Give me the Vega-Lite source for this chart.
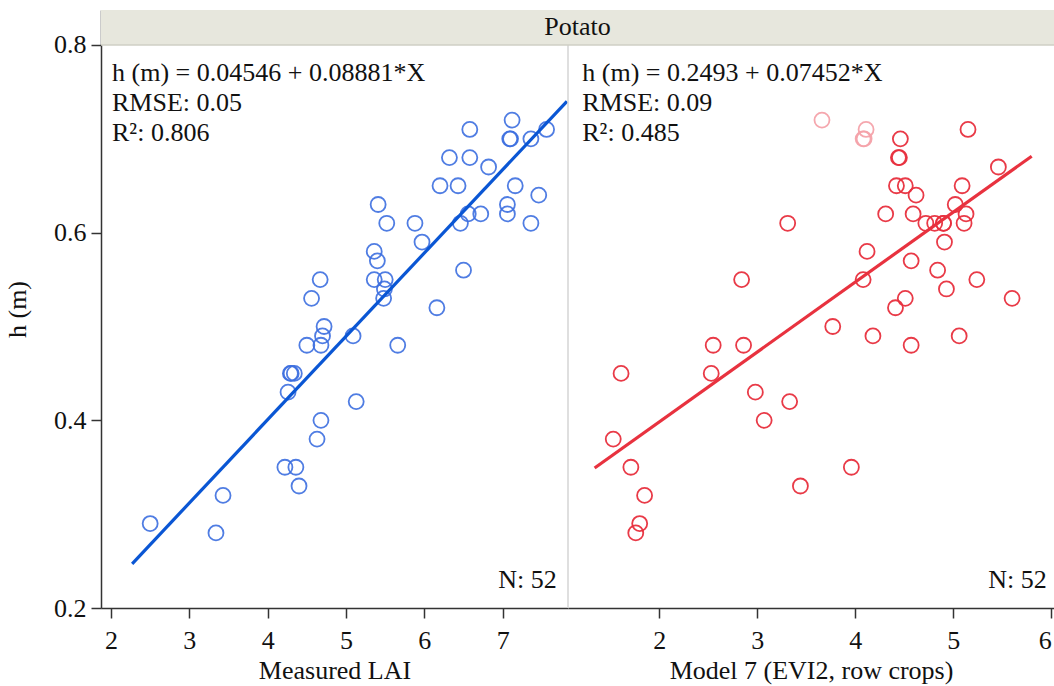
{
  "$schema": "https://vega.github.io/schema/vega-lite/v6.json",
  "width": 953,
  "height": 598,
  "autosize": {"type": "none"},
  "padding": {"left": 101, "top": 10, "right": 0, "bottom": 78},
  "config": {
    "font": "Liberation Serif",
    "view": {"stroke": null},
    "axis": {
      "labelFont": "Liberation Serif",
      "titleFont": "Liberation Serif",
      "labelFontSize": 26,
      "titleFontSize": 26,
      "titleFontWeight": "normal",
      "labelColor": "#111111",
      "titleColor": "#111111",
      "tickColor": "#333333",
      "domainColor": "#333333",
      "tickSize": 10,
      "tickWidth": 1.5,
      "domainWidth": 1.5,
      "grid": false,
      "zindex": 0
    }
  },
  "datasets": {
    "measured": [
      {"lai": 7.12, "h": 0.72}, {"lai": 6.58, "h": 0.71}, {"lai": 7.56, "h": 0.71}, {"lai": 7.10, "h": 0.70},
      {"lai": 7.09, "h": 0.70}, {"lai": 7.36, "h": 0.70}, {"lai": 6.32, "h": 0.68}, {"lai": 6.58, "h": 0.68},
      {"lai": 6.82, "h": 0.67}, {"lai": 6.20, "h": 0.65}, {"lai": 6.43, "h": 0.65}, {"lai": 7.16, "h": 0.65},
      {"lai": 7.46, "h": 0.64}, {"lai": 5.41, "h": 0.63}, {"lai": 7.06, "h": 0.63}, {"lai": 7.06, "h": 0.62},
      {"lai": 6.56, "h": 0.62}, {"lai": 6.72, "h": 0.62}, {"lai": 7.36, "h": 0.61}, {"lai": 5.52, "h": 0.61},
      {"lai": 5.88, "h": 0.61}, {"lai": 6.46, "h": 0.61}, {"lai": 5.97, "h": 0.59}, {"lai": 5.36, "h": 0.58},
      {"lai": 5.40, "h": 0.57}, {"lai": 6.50, "h": 0.56}, {"lai": 4.67, "h": 0.55}, {"lai": 5.36, "h": 0.55},
      {"lai": 5.50, "h": 0.55}, {"lai": 5.49, "h": 0.54}, {"lai": 4.56, "h": 0.53}, {"lai": 5.48, "h": 0.53},
      {"lai": 6.16, "h": 0.52}, {"lai": 4.72, "h": 0.50}, {"lai": 4.70, "h": 0.49}, {"lai": 5.09, "h": 0.49},
      {"lai": 4.50, "h": 0.48}, {"lai": 4.68, "h": 0.48}, {"lai": 5.66, "h": 0.48}, {"lai": 4.29, "h": 0.45},
      {"lai": 4.34, "h": 0.45}, {"lai": 4.30, "h": 0.45}, {"lai": 4.26, "h": 0.43}, {"lai": 5.13, "h": 0.42},
      {"lai": 4.68, "h": 0.40}, {"lai": 4.63, "h": 0.38}, {"lai": 4.22, "h": 0.35}, {"lai": 4.36, "h": 0.35},
      {"lai": 4.40, "h": 0.33}, {"lai": 3.43, "h": 0.32}, {"lai": 2.50, "h": 0.29}, {"lai": 3.34, "h": 0.28}
    ],
    "modelled": [
      {"evi": 3.66, "h": 0.72, "status": "faded"}, {"evi": 4.11, "h": 0.71, "status": "faded"},
      {"evi": 4.08, "h": 0.70, "status": "faded"}, {"evi": 4.09, "h": 0.70, "status": "faded"},
      {"evi": 5.15, "h": 0.71, "status": "normal"}, {"evi": 4.46, "h": 0.70, "status": "normal"},
      {"evi": 4.45, "h": 0.68, "status": "normal"}, {"evi": 4.44, "h": 0.68, "status": "normal"},
      {"evi": 5.46, "h": 0.67, "status": "normal"}, {"evi": 4.42, "h": 0.65, "status": "normal"},
      {"evi": 4.51, "h": 0.65, "status": "normal"}, {"evi": 5.09, "h": 0.65, "status": "normal"},
      {"evi": 4.62, "h": 0.64, "status": "normal"}, {"evi": 5.02, "h": 0.63, "status": "normal"},
      {"evi": 4.31, "h": 0.62, "status": "normal"}, {"evi": 4.59, "h": 0.62, "status": "normal"},
      {"evi": 5.13, "h": 0.62, "status": "normal"}, {"evi": 3.31, "h": 0.61, "status": "normal"},
      {"evi": 4.72, "h": 0.61, "status": "normal"}, {"evi": 4.81, "h": 0.61, "status": "normal"},
      {"evi": 4.90, "h": 0.61, "status": "normal"}, {"evi": 4.90, "h": 0.61, "status": "normal"},
      {"evi": 5.11, "h": 0.61, "status": "normal"}, {"evi": 4.91, "h": 0.59, "status": "normal"},
      {"evi": 4.12, "h": 0.58, "status": "normal"}, {"evi": 4.57, "h": 0.57, "status": "normal"},
      {"evi": 4.84, "h": 0.56, "status": "normal"}, {"evi": 2.84, "h": 0.55, "status": "normal"},
      {"evi": 4.08, "h": 0.55, "status": "normal"}, {"evi": 5.24, "h": 0.55, "status": "normal"},
      {"evi": 4.93, "h": 0.54, "status": "normal"}, {"evi": 4.51, "h": 0.53, "status": "normal"},
      {"evi": 5.60, "h": 0.53, "status": "normal"}, {"evi": 4.41, "h": 0.52, "status": "normal"},
      {"evi": 3.77, "h": 0.50, "status": "normal"}, {"evi": 4.18, "h": 0.49, "status": "normal"},
      {"evi": 5.06, "h": 0.49, "status": "normal"}, {"evi": 2.55, "h": 0.48, "status": "normal"},
      {"evi": 2.86, "h": 0.48, "status": "normal"}, {"evi": 4.57, "h": 0.48, "status": "normal"},
      {"evi": 1.61, "h": 0.45, "status": "normal"}, {"evi": 2.53, "h": 0.45, "status": "normal"},
      {"evi": 2.98, "h": 0.43, "status": "normal"}, {"evi": 3.33, "h": 0.42, "status": "normal"},
      {"evi": 3.07, "h": 0.40, "status": "normal"}, {"evi": 1.53, "h": 0.38, "status": "normal"},
      {"evi": 1.71, "h": 0.35, "status": "normal"}, {"evi": 3.96, "h": 0.35, "status": "normal"},
      {"evi": 3.44, "h": 0.33, "status": "normal"}, {"evi": 1.85, "h": 0.32, "status": "normal"},
      {"evi": 1.80, "h": 0.29, "status": "normal"}, {"evi": 1.76, "h": 0.28, "status": "normal"}
    ],
    "fitMeasured": [{"lai": 2.27, "h": 0.2471}, {"lai": 7.82, "h": 0.7400}],
    "fitModelled": [{"evi": 1.34, "h": 0.3492}, {"evi": 5.80, "h": 0.6815}],
    "statsMeasured": [{"label": "h (m) = 0.04546 + 0.08881*X\nRMSE: 0.05\nR²: 0.806", "n": "N: 52"}],
    "statsModelled": [{"label": "h (m) = 0.2493 + 0.07452*X\nRMSE: 0.09\nR²: 0.485", "n": "N: 52"}],
    "header": [{"crop": "Potato"}]
  },
  "layer": [
    {
      "layer": [
        {
          "data": {"name": "measured"},
          "mark": {"type": "point", "shape": "circle", "filled": false, "size": 225, "strokeWidth": 1.8, "color": "#3d6fe0", "opacity": 0.9},
          "encoding": {
            "x": {"field": "lai", "type": "quantitative", "title": "Measured LAI", "scale": {"domain": [1.8724, 7.8335], "range": [0, 467], "nice": false, "zero": false}, "axis": {"orient": "bottom", "values": [2, 3, 4, 5, 6, 7], "format": "d", "labelPadding": 9, "titlePadding": 4}},
            "y": {"field": "h", "type": "quantitative", "title": "h (m)", "scale": {"domain": [0.2, 0.8373], "nice": false, "zero": false}, "axis": {"values": [0.2, 0.4, 0.6, 0.8], "format": ".1f", "labelPadding": 5, "titlePadding": 23}}
          }
        },
        {
          "data": {"name": "fitMeasured"},
          "mark": {"type": "line", "color": "#0a56d4", "strokeWidth": 3.2},
          "encoding": {
            "x": {"field": "lai", "type": "quantitative", "title": "Measured LAI", "scale": {"domain": [1.8724, 7.8335], "range": [0, 467], "nice": false, "zero": false}},
            "y": {"field": "h", "type": "quantitative", "title": "h (m)", "scale": {"domain": [0.2, 0.8373], "nice": false, "zero": false}}
          }
        },
        {
          "data": {"name": "statsMeasured"},
          "mark": {"type": "text", "align": "left", "baseline": "top", "lineBreak": "\n", "lineHeight": 30, "fontSize": 26, "color": "#111111"},
          "encoding": {
            "x": {"datum": 2.013, "type": "quantitative", "title": "Measured LAI", "scale": {"domain": [1.8724, 7.8335], "range": [0, 467], "nice": false, "zero": false}},
            "y": {"datum": 0.784, "type": "quantitative", "title": "h (m)", "scale": {"domain": [0.2, 0.8373], "nice": false, "zero": false}},
            "text": {"field": "label"}
          }
        },
        {
          "data": {"name": "statsMeasured"},
          "mark": {"type": "text", "align": "right", "baseline": "alphabetic", "fontSize": 26, "color": "#111111"},
          "encoding": {
            "x": {"datum": 7.689, "type": "quantitative", "title": "Measured LAI", "scale": {"domain": [1.8724, 7.8335], "range": [0, 467], "nice": false, "zero": false}},
            "y": {"datum": 0.221, "type": "quantitative", "title": "h (m)", "scale": {"domain": [0.2, 0.8373], "nice": false, "zero": false}},
            "text": {"field": "n"}
          }
        }
      ]
    },
    {
      "layer": [
        {
          "data": {"name": "header"},
          "mark": {"type": "rule", "color": "#d4d4d4", "strokeWidth": 1.5},
          "encoding": {
            "x": {"datum": 1.0684, "type": "quantitative", "title": "Model 7 (EVI2, row crops)", "scale": {"domain": [1.0684, 6.0276], "range": [467, 953], "nice": false, "zero": false}},
            "y": {"datum": 0.2, "type": "quantitative", "title": "h (m)", "scale": {"domain": [0.2, 0.8373], "nice": false, "zero": false}},
            "y2": {"datum": 0.8}
          }
        },
        {
          "data": {"name": "modelled"},
          "mark": {"type": "point", "shape": "circle", "filled": false, "size": 225, "strokeWidth": 1.8, "opacity": 0.95},
          "encoding": {
            "x": {"field": "evi", "type": "quantitative", "title": "Model 7 (EVI2, row crops)", "scale": {"domain": [1.0684, 6.0276], "range": [467, 953], "nice": false, "zero": false}, "axis": {"orient": "bottom", "values": [2, 3, 4, 5, 6], "format": "d", "labelPadding": 9, "titlePadding": 4, "labelFlush": 5}},
            "y": {"field": "h", "type": "quantitative", "title": "h (m)", "scale": {"domain": [0.2, 0.8373], "nice": false, "zero": false}},
            "color": {"field": "status", "type": "nominal", "scale": {"domain": ["normal", "faded"], "range": ["#e8303e", "#f5a3aa"]}, "legend": null}
          }
        },
        {
          "data": {"name": "fitModelled"},
          "mark": {"type": "line", "color": "#e8323f", "strokeWidth": 3.2},
          "encoding": {
            "x": {"field": "evi", "type": "quantitative", "title": "Model 7 (EVI2, row crops)", "scale": {"domain": [1.0684, 6.0276], "range": [467, 953], "nice": false, "zero": false}},
            "y": {"field": "h", "type": "quantitative", "title": "h (m)", "scale": {"domain": [0.2, 0.8373], "nice": false, "zero": false}}
          }
        },
        {
          "data": {"name": "statsModelled"},
          "mark": {"type": "text", "align": "left", "baseline": "top", "lineBreak": "\n", "lineHeight": 30, "fontSize": 26, "color": "#111111"},
          "encoding": {
            "x": {"datum": 1.214, "type": "quantitative", "title": "Model 7 (EVI2, row crops)", "scale": {"domain": [1.0684, 6.0276], "range": [467, 953], "nice": false, "zero": false}},
            "y": {"datum": 0.784, "type": "quantitative", "title": "h (m)", "scale": {"domain": [0.2, 0.8373], "nice": false, "zero": false}},
            "text": {"field": "label"}
          }
        },
        {
          "data": {"name": "statsModelled"},
          "mark": {"type": "text", "align": "right", "baseline": "alphabetic", "fontSize": 26, "color": "#111111"},
          "encoding": {
            "x": {"datum": 5.953, "type": "quantitative", "title": "Model 7 (EVI2, row crops)", "scale": {"domain": [1.0684, 6.0276], "range": [467, 953], "nice": false, "zero": false}},
            "y": {"datum": 0.221, "type": "quantitative", "title": "h (m)", "scale": {"domain": [0.2, 0.8373], "nice": false, "zero": false}},
            "text": {"field": "n"}
          }
        }
      ]
    },
    {
      "data": {"name": "header"},
      "mark": {"type": "rect", "color": "#e7e7dd"},
      "encoding": {
        "y": {"datum": 0.8, "type": "quantitative", "title": "h (m)", "scale": {"domain": [0.2, 0.8373], "nice": false, "zero": false}},
        "y2": {"datum": 0.8373}
      }
    },
    {
      "data": {"name": "header"},
      "mark": {"type": "rule", "color": "#cfcfc5", "strokeWidth": 1.5},
      "encoding": {
        "y": {"datum": 0.8, "type": "quantitative", "title": "h (m)", "scale": {"domain": [0.2, 0.8373], "nice": false, "zero": false}}
      }
    },
    {
      "data": {"name": "header"},
      "mark": {"type": "text", "fontSize": 26, "baseline": "middle", "align": "center", "color": "#111111"},
      "encoding": {
        "y": {"datum": 0.8187, "type": "quantitative", "title": "h (m)", "scale": {"domain": [0.2, 0.8373], "nice": false, "zero": false}},
        "text": {"field": "crop"}
      }
    }
  ],
  "resolve": {"scale": {"x": "independent"}, "axis": {"x": "independent"}}
}
